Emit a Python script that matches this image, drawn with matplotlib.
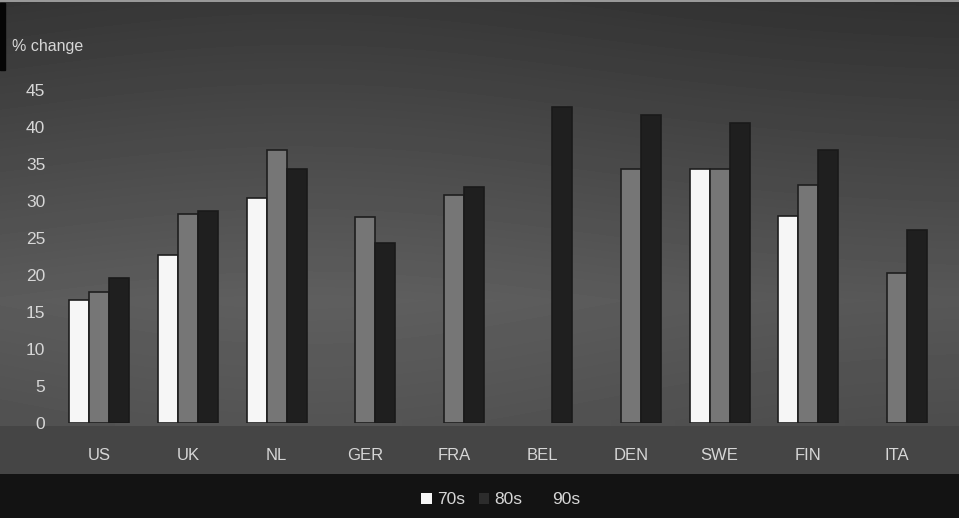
import numpy as np
import matplotlib.pyplot as plt
from matplotlib.patches import Rectangle, Patch

countries = ['US', 'UK', 'NL', 'GER', 'FRA', 'BEL', 'DEN', 'SWE', 'FIN', 'ITA']
change_70s = [16.6, 22.7, 30.3, np.nan, np.nan, np.nan, np.nan, 34.3, 27.9, np.nan]
change_80s = [17.7, 28.2, 36.9, 27.8, 30.8, np.nan, 34.3, 34.3, 32.1, 20.3]
change_90s = [19.6, 28.6, 34.3, 24.3, 31.8, 42.6, 41.6, 40.5, 36.8, 26.0]
yticks = [0, 5, 10, 15, 20, 25, 30, 35, 40, 45]

plt.rcParams['font.family'] = ['Liberation Sans', 'DejaVu Sans']
text_col = '#d6d6d6'

fig = plt.figure(figsize=(9.59, 5.18), dpi=100)

# dark shaded backdrop, lighter towards the middle
bg = fig.add_axes([0, 0, 1, 1], zorder=0)
h, w = 518, 959
yy, xx = np.mgrid[0:h, 0:w]
shade = 0.19 + 0.15 * np.clip(yy / 300, 0, 1) - 0.04 * np.clip((yy - 300) / 120, 0, 1)
shade += 0.03 * np.exp(-((xx - 300) / 400) ** 2)
shade[yy > 425] = 0.27
shade[yy > 473] = 0.075
shade[:2, :] = 0.6
bg.imshow(shade, cmap='gray', vmin=0, vmax=1, aspect='auto', interpolation='bilinear')
bg.set_axis_off()
fig.patches.append(Rectangle((0, 0.865), 0.005, 0.13, transform=fig.transFigure,
                             color='#050505', zorder=1))

ax = fig.add_axes([0.0574, 0.1834, 0.924, 0.658], zorder=2)
ax.patch.set_alpha(0)

x = np.arange(len(countries))
bw = 0.226
ax.bar(x - bw, change_70s, bw, color='#f6f6f6', edgecolor='#1e1e1e', linewidth=1.2, label='70s')
ax.bar(x, change_80s, bw, color='#767676', edgecolor='#1e1e1e', linewidth=1.2, label='80s')
ax.bar(x + bw, change_90s, bw, color='#1f1f1f', edgecolor='#1a1a1a', linewidth=1.2, label='90s')

ax.set_xlim(-0.5, len(countries) - 0.5)
ax.set_ylim(0, 46)
ax.set_yticks(yticks)
ax.set_xticks(x)
ax.set_xticklabels(countries)
ax.tick_params(axis='y', length=0, pad=7, labelsize=12.5, labelcolor=text_col)
ax.tick_params(axis='x', length=0, pad=18, labelsize=12, labelcolor=text_col)
for s in ax.spines.values():
    s.set_visible(False)

fig.text(0.013, 0.911, '% change', color=text_col, fontsize=11.5, va='center', ha='left')

handles = [Patch(facecolor='#f6f6f6'), Patch(facecolor='#2c2c2c'), Patch(facecolor='#131313')]
fig.legend(handles, ['70s', '80s', '90s'], loc='center', bbox_to_anchor=(0.522, 0.035),
           ncol=3, frameon=False, handlelength=0.6, handleheight=0.6, handletextpad=0.3,
           columnspacing=0.8, fontsize=12.5, labelcolor=text_col)

fig.savefig('out.png', dpi=100)
